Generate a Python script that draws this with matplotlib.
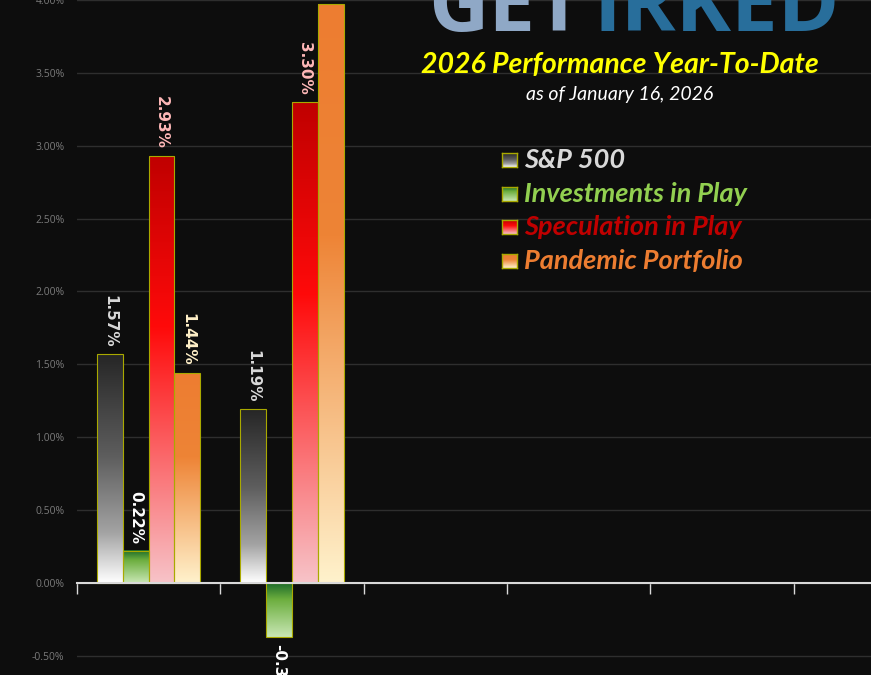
import numpy as np
import matplotlib
matplotlib.use('Agg')
import matplotlib.pyplot as plt
from matplotlib.colors import LinearSegmentedColormap

# ---- data (percent, year-to-date) ----
weeks = ['Jan 9', 'Jan 16']
series = ['S&P 500', 'Investments in Play', 'Speculation in Play', 'Pandemic Portfolio']
sp500 = [1.57, 1.19]
investments = [0.22, -0.37]
speculation = [2.93, 3.30]
pandemic = [1.44, 3.97]

values = [sp500, investments, speculation, pandemic]

# gradient stops, top of bar -> bottom of bar
GRADS = [
    [(0, '#262626'), (0.45, '#5e5e5e'), (0.78, '#a3a3a3'), (1, '#ffffff')],
    [(0, '#1b6a2a'), (0.3, '#6cae3e'), (1, '#c9e7b5')],
    [(0, '#c00000'), (0.4, '#ff0a0a'), (1, '#f7c3c8')],
    [(0, '#ed7d31'), (0.4, '#ee8436'), (1, '#fff2cc')],
]
LABEL_COLORS = ['#d9d9d9', '#ffffff', '#ffb8b8', '#fff0c8']
LEGEND_COLORS = ['#d9d9d9', '#92d050', '#c00000', '#ed7d31']
EDGE = '#a9a900'
BG = '#0d0d0d'

W, H = 871, 675
fig = plt.figure(figsize=(W/100, H/100), dpi=100, facecolor=BG)
ax = fig.add_axes([77/W, 0, 1-77/W, 1], facecolor=BG)

cmaps = [LinearSegmentedColormap.from_list('g%d' % i, g) for i, g in enumerate(GRADS)]
grad = np.linspace(0, 1, 256).reshape(-1, 1)

bw = 0.18
x = np.arange(len(weeks))
for i, vals in enumerate(values):
    xs = x + (i - 1.5) * bw
    bars = ax.bar(xs, vals, width=bw, facecolor='none', edgecolor=EDGE, lw=0.8, zorder=3)
    for b, v, xc in zip(bars, vals, xs):
        x0 = b.get_x()
        lo, hi = min(0, v), max(0, v)
        ax.imshow(grad, cmap=cmaps[i], extent=[x0, x0 + bw, lo, hi],
                  aspect='auto', origin='upper', zorder=2)
        if v >= 0:
            ax.annotate('%.2f%%' % v, (xc, v), xytext=(0, 5), textcoords='offset points',
                        rotation=270, ha='center', va='bottom', color=LABEL_COLORS[i],
                        fontsize=11, fontweight='bold', zorder=4)
        else:
            ax.annotate('%.2f%%' % v, (xc, v), xytext=(0, -5), textcoords='offset points',
                        rotation=270, ha='center', va='top', color=LABEL_COLORS[i],
                        fontsize=11, fontweight='bold', zorder=4)

ax.set_xlim(-0.5, 5.04)
ax.set_ylim(-0.632, 3.995)

# axes styling
ax.set_yticks(np.arange(-0.5, 4.01, 0.5))
ax.set_yticklabels(['%.2f%%' % t for t in np.arange(-0.5, 4.01, 0.5)])
ax.grid(axis='y', color='#2e2e2e', lw=1, zorder=0)
ax.set_axisbelow(True)
ax.set_xticks(np.arange(-0.5, 5.0, 1.0))
ax.set_xticklabels([])
ax.tick_params(axis='x', direction='out', length=8, width=1, color='#d9d9d9')
ax.tick_params(axis='y', length=0, pad=9, labelcolor='#7a7a7a', labelsize=7.5)
for lab in ax.get_yticklabels():
    lab.set_fontfamily('Open Sans')
for s in ['top', 'right', 'left']:
    ax.spines[s].set_visible(False)
ax.spines['bottom'].set_position(('data', 0))
ax.spines['bottom'].set_color('#d9d9d9')
ax.spines['bottom'].set_linewidth(1.5)
ax.spines['bottom'].set_zorder(5)

# logo (cropped at top)
fig.text(583/W, 1-31/H, 'GET', ha='right', va='baseline', color='#8fa8c6',
         fontsize=60, fontweight='bold', family='Open Sans')
fig.text(593/W, 1-31/H, 'IRKED', ha='left', va='baseline', color='#286e9b',
         fontsize=60, fontweight='bold', family='Open Sans')

# title
fig.text(620/W, 1-73/H, '2026 Performance Year-To-Date', ha='center', va='baseline',
         color='#ffff00', fontsize=20.5, fontweight='bold', style='italic', family='Lato')
fig.text(620/W, 1-100/H, 'as of January 16, 2026', ha='center', va='baseline',
         color='#ffffff', fontsize=14, style='italic', family='Lato')

# legend
rows = [160, 194, 227, 261]
for i, name in enumerate(series):
    yc = rows[i]
    lax = fig.add_axes([502/W, 1-(yc+7)/H, 15/W, 14/H])
    lax.imshow(grad, cmap=cmaps[i], aspect='auto', origin='upper')
    lax.set_xticks([])
    lax.set_yticks([])
    for s in lax.spines.values():
        s.set_color(EDGE)
        s.set_linewidth(1)
    fig.text(524/W, 1-yc/H, name, ha='left', va='center', color=LEGEND_COLORS[i],
             fontsize=19.5, fontweight='bold', style='italic', family='Lato')

fig.savefig('out.png', dpi=100, facecolor=BG)
